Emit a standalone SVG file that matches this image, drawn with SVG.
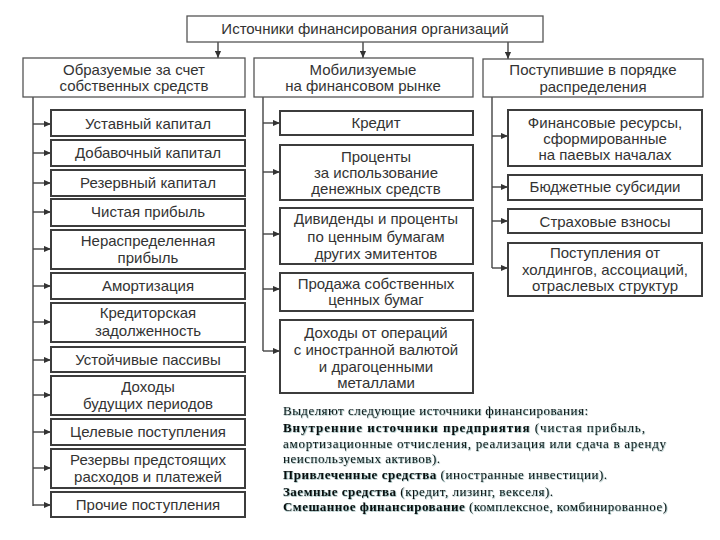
<svg xmlns="http://www.w3.org/2000/svg" width="720" height="540" viewBox="0 0 720 540">
<defs>
<marker id="arr" viewBox="0 0 8 8" refX="8" refY="4" markerWidth="7" markerHeight="7" markerUnits="userSpaceOnUse" orient="auto">
<path d="M0,0.5 L8,4 L0,7.5 Z" fill="#333"/>
</marker>
<filter id="sh" x="-5%" y="-20%" width="110%" height="140%">
<feDropShadow dx="0.6" dy="0.6" stdDeviation="0.15" flood-color="#1f6060" flood-opacity="0.6"/>
</filter>
</defs>
<style>
.hdr{fill:#fff;stroke:#555;stroke-width:1.3}
.box{fill:#fff;stroke:#3c3c3c;stroke-width:2}
.t{font-family:"Liberation Sans",Arial,sans-serif;font-size:15px;fill:#333;text-anchor:middle}
.c{fill:none;stroke:#444;stroke-width:1.4}
.n{font-family:"Liberation Serif","Times New Roman",serif;font-size:13px;fill:#101010}
.b{font-weight:bold}
</style>
<rect width="720" height="540" fill="#fff"/>

<g id="connectors">
<path class="c" d="M218,42 V58" marker-end="url(#arr)"/>
<path class="c" d="M363,42 V58" marker-end="url(#arr)"/>
<path class="c" d="M508,42 V59" marker-end="url(#arr)"/>
<path class="c" d="M33,97 V506"/>
<path class="c" d="M33,124 H51" marker-end="url(#arr)"/>
<path class="c" d="M33,153 H51" marker-end="url(#arr)"/>
<path class="c" d="M33,183 H51" marker-end="url(#arr)"/>
<path class="c" d="M33,212 H51" marker-end="url(#arr)"/>
<path class="c" d="M33,249 H51" marker-end="url(#arr)"/>
<path class="c" d="M33,286 H51" marker-end="url(#arr)"/>
<path class="c" d="M33,322 H51" marker-end="url(#arr)"/>
<path class="c" d="M33,360 H51" marker-end="url(#arr)"/>
<path class="c" d="M33,395 H51" marker-end="url(#arr)"/>
<path class="c" d="M33,432 H51" marker-end="url(#arr)"/>
<path class="c" d="M33,468 H51" marker-end="url(#arr)"/>
<path class="c" d="M33,505 H51" marker-end="url(#arr)"/>
<path class="c" d="M263,97 V351"/>
<path class="c" d="M263,123 H280" marker-end="url(#arr)"/>
<path class="c" d="M263,172 H280" marker-end="url(#arr)"/>
<path class="c" d="M263,234 H280" marker-end="url(#arr)"/>
<path class="c" d="M263,289 H280" marker-end="url(#arr)"/>
<path class="c" d="M263,351 H280" marker-end="url(#arr)"/>
<path class="c" d="M492,97 V268"/>
<path class="c" d="M492,136 H508" marker-end="url(#arr)"/>
<path class="c" d="M492,187 H508" marker-end="url(#arr)"/>
<path class="c" d="M492,221 H508" marker-end="url(#arr)"/>
<path class="c" d="M492,268 H508" marker-end="url(#arr)"/>
</g>

<g id="root"><rect class="hdr" x="187" y="16" width="356" height="26"/><text class="t" x="365" y="34">Источники финансирования организаций</text></g>

<g id="h1"><rect class="hdr" x="23" y="58" width="222" height="39"/><text class="t" x="134" y="75">Образуемые за счет</text><text class="t" x="134" y="91">собственных средств</text></g>
<g id="h2"><rect class="hdr" x="254" y="58" width="219" height="39"/><text class="t" x="363" y="75">Мобилизуемые</text><text class="t" x="363" y="91">на финансовом рынке</text></g>
<g id="h3"><rect class="hdr" x="483" y="59" width="220" height="38"/><text class="t" x="593" y="75">Поступившие в порядке</text><text class="t" x="593" y="92">распределения</text></g>

<g id="l1"><rect class="box" x="51" y="110" width="194" height="26"/><text class="t" x="148" y="129">Уставный капитал</text></g>
<g id="l2"><rect class="box" x="51" y="140" width="194" height="26"/><text class="t" x="148" y="158">Добавочный капитал</text></g>
<g id="l3"><rect class="box" x="51" y="170" width="194" height="26"/><text class="t" x="148" y="188">Резервный капитал</text></g>
<g id="l4"><rect class="box" x="51" y="199" width="194" height="27"/><text class="t" x="148" y="217">Чистая прибыль</text></g>
<g id="l5"><rect class="box" x="51" y="230" width="194" height="39"/><text class="t" x="148" y="246">Нераспределенная</text><text class="t" x="148" y="263">прибыль</text></g>
<g id="l6"><rect class="box" x="51" y="273" width="194" height="26"/><text class="t" x="148" y="291">Амортизация</text></g>
<g id="l7"><rect class="box" x="51" y="303" width="194" height="39"/><text class="t" x="148" y="318">Кредиторская</text><text class="t" x="148" y="336">задолженность</text></g>
<g id="l8"><rect class="box" x="51" y="347" width="194" height="25"/><text class="t" x="148" y="365">Устойчивые пассивы</text></g>
<g id="l9"><rect class="box" x="51" y="376" width="194" height="39"/><text class="t" x="148" y="392">Доходы</text><text class="t" x="148" y="409">будущих периодов</text></g>
<g id="l10"><rect class="box" x="51" y="419" width="194" height="26"/><text class="t" x="148" y="437">Целевые поступления</text></g>
<g id="l11"><rect class="box" x="51" y="449" width="194" height="39"/><text class="t" x="148" y="465">Резервы предстоящих</text><text class="t" x="148" y="482">расходов и платежей</text></g>
<g id="l12"><rect class="box" x="51" y="492" width="194" height="25"/><text class="t" x="148" y="510">Прочие поступления</text></g>

<g id="m1"><rect class="box" x="280" y="111" width="193" height="24"/><text class="t" x="376" y="128">Кредит</text></g>
<g id="m2"><rect class="box" x="280" y="145" width="193" height="55"/><text class="t" x="376" y="162">Проценты</text><text class="t" x="376" y="178">за использование</text><text class="t" x="376" y="194">денежных средств</text></g>
<g id="m3"><rect class="box" x="280" y="208" width="193" height="56"/><text class="t" x="376" y="224">Дивиденды и проценты</text><text class="t" x="376" y="242">по ценным бумагам</text><text class="t" x="376" y="259">других эмитентов</text></g>
<g id="m4"><rect class="box" x="280" y="273" width="193" height="38"/><text class="t" x="376" y="289">Продажа собственных</text><text class="t" x="376" y="305">ценных бумаг</text></g>
<g id="m5"><rect class="box" x="280" y="320" width="193" height="73"/><text class="t" x="376" y="338">Доходы от операций</text><text class="t" x="376" y="355">с иностранной валютой</text><text class="t" x="376" y="372">и драгоценными</text><text class="t" x="376" y="388">металлами</text></g>

<g id="r1"><rect class="box" x="508" y="110" width="194" height="56"/><text class="t" x="605" y="128">Финансовые ресурсы,</text><text class="t" x="605" y="144">сформированные</text><text class="t" x="605" y="160">на паевых началах</text></g>
<g id="r2"><rect class="box" x="508" y="175" width="194" height="25"/><text class="t" x="605" y="192">Бюджетные субсидии</text></g>
<g id="r3"><rect class="box" x="508" y="209" width="194" height="24"/><text class="t" x="605" y="227">Страховые взносы</text></g>
<g id="r4"><rect class="box" x="508" y="243" width="194" height="53"/><text class="t" x="605" y="258">Поступления от</text><text class="t" x="605" y="275">холдингов, ассоциаций,</text><text class="t" x="605" y="291">отраслевых структур</text></g>

<g id="note" filter="url(#sh)">
<text class="n" x="283" y="415" textLength="305">Выделяют следующие источники финансирования:</text>
<text class="n" x="283" y="432" textLength="362"><tspan class="b">Внутренние источники предприятия</tspan> (чистая прибыль,</text>
<text class="n" x="283" y="448" textLength="383">амортизационные отчисления, реализация или сдача в аренду</text>
<text class="n" x="283" y="463" textLength="157">неиспользуемых активов).</text>
<text class="n" x="283" y="479" textLength="324"><tspan class="b">Привлеченные средства</tspan> (иностранные инвестиции).</text>
<text class="n" x="283" y="496" textLength="270"><tspan class="b">Заемные средства</tspan> (кредит, лизинг, векселя).</text>
<text class="n" x="283" y="511" textLength="384"><tspan class="b">Смешанное финансирование</tspan> (комплексное, комбинированное)</text>
</g>
</svg>
